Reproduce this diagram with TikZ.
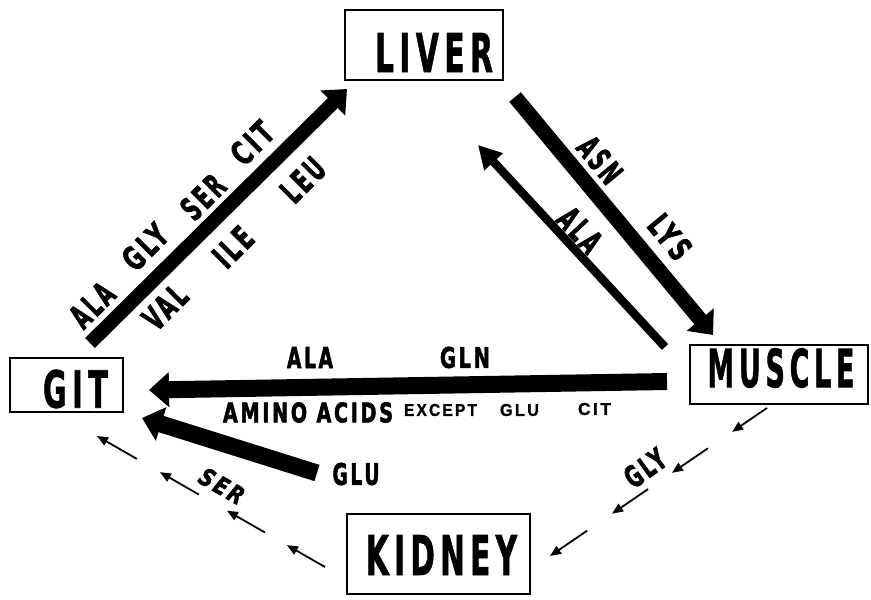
\documentclass[tikz,border=0pt]{standalone}
\usepackage{fontspec}
\usepackage{graphicx}
\usetikzlibrary{arrows.meta,calc}
\newfontfamily\bigf[LetterSpace=18,FakeBold=1.5]{DejaVu Sans}
\newfontfamily\medf[LetterSpace=14,FakeBold=2.5]{DejaVu Sans}
\newfontfamily\labsm[LetterSpace=14,FakeBold=1]{Liberation Sans}
\newcommand{\fitb}[3]{\resizebox{#1pt}{#2pt}{\bigf\bfseries #3}}
\newcommand{\fitt}[3]{\resizebox{#1pt}{#2pt}{\medf\bfseries #3}}
\newcommand{\fits}[3]{\resizebox{#1pt}{#2pt}{\labsm\bfseries #3}}
\newcommand{\fiti}[3]{\resizebox{#1pt}{#2pt}{\medf\bfseries\itshape #3}}
\begin{document}
\begin{tikzpicture}[x=1pt,y=-1pt,
  organ/.style={draw, line width=2.6pt, inner sep=0pt},
  lbl/.style={inner sep=0pt, outer sep=0pt},
  fatarrow/.style={line width=#1, -{Triangle[length=20pt,width=34pt]}},
  thinarrow/.style={line width=8.5pt, -{Triangle[length=23pt,width=24pt]}},
  dasharrow/.style={line width=1.8pt, -{Triangle[length=11pt,width=9pt]}}]
\useasboundingbox (0,0) rectangle (871,600);
% organ boxes
\node[organ, minimum width=158pt, minimum height=70pt] (liver)  at (424,45)    {};
\node[organ, minimum width=178pt, minimum height=59pt] (muscle) at (779,374.5) {};
\node[organ, minimum width=113pt, minimum height=54pt] (git)    at (66.5,385)  {};
\node[organ, minimum width=183pt, minimum height=80pt] (kidney) at (438.5,554) {};
\node[lbl] (liverT)  at (434,52.5) {\fitb{118}{39}{LIVER}};
\node[lbl] (muscleT) at (781,368)  {\fitb{147}{39}{MUSCLE}};
\node[lbl] (gitT)    at (75.5,389) {\fitb{65}{38}{GIT}};
\node[lbl] (kidneyT) at (441.5,555){\fitb{151}{40}{KIDNEY}};
% connector end points
\coordinate (gl1) at (90,343);   \coordinate (gl2) at (347,89);
\coordinate (lm1) at (515,97);   \coordinate (lm2) at (713,335);
\coordinate (ml1) at (665,347);  \coordinate (ml2) at (478,145);
\coordinate (mg1) at (667,381.5);\coordinate (mg2) at (149,390);
\coordinate (kg1) at (317,473);  \coordinate (kg2) at (142,418);
\coordinate (ks1) at (325,567);  \coordinate (ks2) at (97,436);
\coordinate (mk1) at (767,408);  \coordinate (mk2) at (550,556);
% thick arrows
\draw[fatarrow=14pt] (gl1) -- (gl2);
\draw[fatarrow=15pt] (lm1) -- (lm2);
\draw[thinarrow] (ml1) -- (ml2);
\draw[fatarrow=17pt] (mg1) -- (mg2);
\draw[fatarrow=17pt] (kg1) -- (kg2);
% dashed arrows
\foreach \a/\b in {0/0.167,0.263/0.43,0.553/0.724,0.825/1}
  \draw[dasharrow] ($(ks1)!\a!(ks2)$) -- ($(ks1)!\b!(ks2)$);
\foreach \a/\b in {0/0.161,0.272/0.438,0.548/0.714,0.829/1}
  \draw[dasharrow] ($(mk1)!\a!(mk2)$) -- ($(mk1)!\b!(mk2)$);
% labels GIT -> LIVER
\node[lbl, rotate=45] (l1) at (92,305)  {\fitt{48}{24}{ALA}};
\node[lbl, rotate=45] (l2) at (145,247) {\fitt{50}{24}{GLY}};
\node[lbl, rotate=45] (l3) at (203,197) {\fitt{48}{24}{SER}};
\node[lbl, rotate=45] (l4) at (252,143) {\fitt{46}{24}{CIT}};
\node[lbl, rotate=45] (l5) at (165,307) {\fitt{48}{24}{VAL}};
\node[lbl, rotate=45] (l6) at (233,247) {\fitt{42}{24}{ILE}};
\node[lbl, rotate=45] (l7) at (303,180) {\fitt{48}{24}{LEU}};
% labels LIVER <-> MUSCLE
\node[lbl, rotate=-50.4] (l8)  at (600,160) {\fitt{50}{24}{ASN}};
\node[lbl, rotate=-50.4] (l9)  at (670,237) {\fitt{48}{24}{LYS}};
\node[lbl, rotate=-47.2] (l10) at (580,230) {\fitt{48}{24}{ALA}};
% labels MUSCLE -> GIT
\node[lbl] (l11) at (310,357.5) {\fitt{46}{21}{ALA}};
\node[lbl] (l12) at (465,357.5) {\fitt{50}{21}{GLN}};
\node[lbl] (l13) at (308,412.5) {\fitt{170}{20}{AMINO ACIDS}};
\node[lbl] (l14) at (440.5,410) {\fits{73}{12}{EXCEPT}};
\node[lbl] (l15) at (519.5,410) {\fits{39}{12}{GLU}};
\node[lbl] (l16) at (594.5,409) {\fits{33}{12}{CIT}};
% label KIDNEY -> GIT
\node[lbl] (l17) at (356,474) {\fitt{47}{22}{GLU}};
\node[lbl, rotate=-30] (l18) at (222,486) {\fiti{48}{18}{SER}};
% label MUSCLE -> KIDNEY
\node[lbl, rotate=36] (l19) at (645,468) {\fitt{44}{22}{GLY}};
\end{tikzpicture}
\end{document}
